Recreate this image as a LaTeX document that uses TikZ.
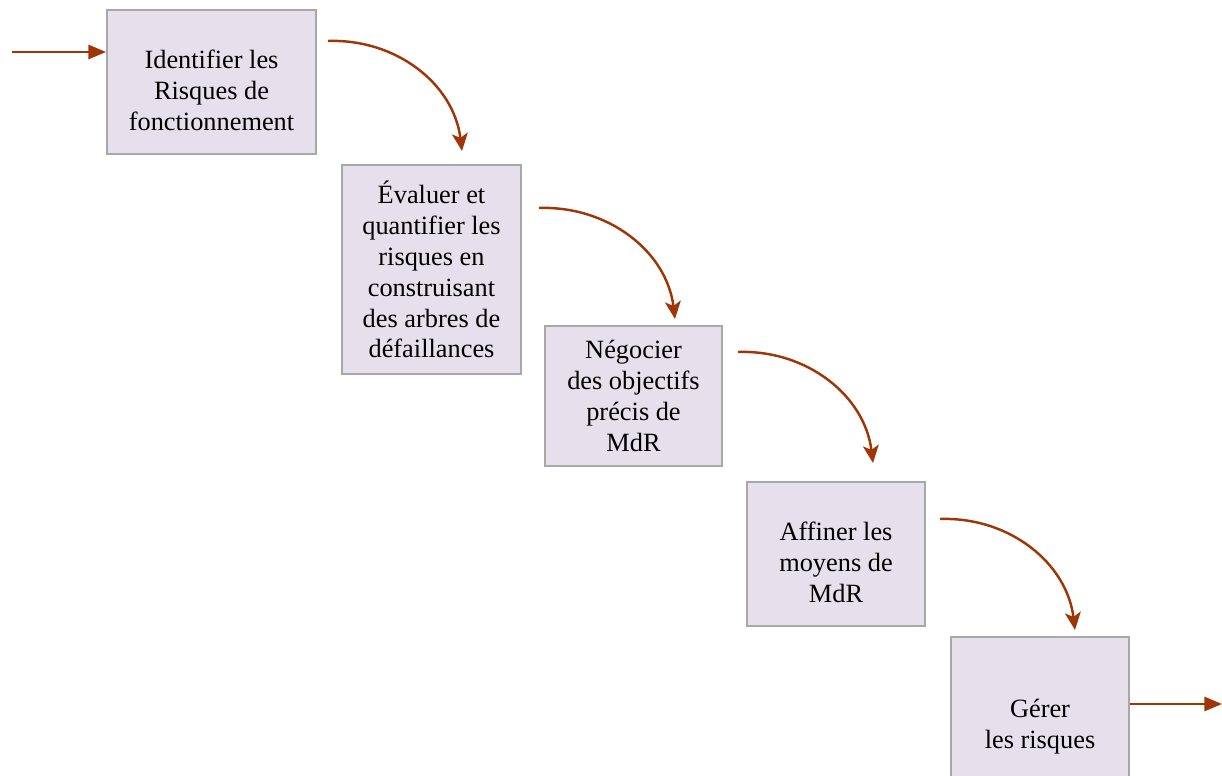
\documentclass[tikz,border=0pt]{standalone}
\usepackage{fontspec}
\setmainfont{Liberation Serif}
\usepackage{tikz}
\usetikzlibrary{arrows.meta, positioning}

\definecolor{flowred}{RGB}{158,54,8}
\definecolor{boxfill}{RGB}{229,224,236}
\definecolor{boxline}{RGB}{168,168,168}

\begin{document}
\begin{tikzpicture}[x=0.02cm, y=-0.02cm,
        stage/.style={draw=boxline, fill=boxfill, line width=1.1pt, align=center,
                      font=\fontsize{15}{17.6}\selectfont, inner sep=2pt},
        flow/.style={flowred, line width=1.4pt, -{Triangle[length=10pt, width=8pt]}},
        turn/.style={flowred, line width=1.4pt, -{Stealth[length=10pt, width=9pt, inset=2.5pt]}}]
        \useasboundingbox (0,0) rectangle (1222,776);

        % the five steps
        \node[stage, minimum width=4.18cm, minimum height=2.88cm] (ident) at (211.5,82) {\rule{0pt}{20pt}Identifier les\\Risques de\\fonctionnement};
        \node[stage, minimum width=3.58cm, minimum height=4.18cm] (evalu) at (431.5,269.5) {Évaluer et\\quantifier les\\risques en\\construisant\\des arbres de\\défaillances};
        \node[stage, minimum width=3.54cm, minimum height=2.80cm] (negoc) at (633.5,396) {Négocier\\des objectifs\\précis de\\MdR};
        \node[stage, minimum width=3.56cm, minimum height=2.88cm] (affin) at (836,554) {\rule{0pt}{20pt}Affiner les\\moyens de\\MdR};
        \node[stage, minimum width=3.56cm, minimum height=3.60cm] (gerer) at (1040,727) {Gérer\\les risques};

        % in and out
        \coordinate (entree) at (12,52);
        \coordinate (sortie) at (1222,704);
        \draw[flow] (entree) -- (entree -| ident.west);
        \draw[flow] (gerer.east |- sortie) -- (sortie);

        % bends between steps
        \coordinate (s1) at (328,41);   \coordinate (e1) at (462,151);
        \coordinate (s2) at (539,208);  \coordinate (e2) at (675,319);
        \coordinate (s3) at (738,352);  \coordinate (e3) at (873,463);
        \coordinate (s4) at (940,519);  \coordinate (e4) at (1075,630);
        \draw[turn] (s1) to[out=2, in=97] (e1);
        \draw[turn] (s2) to[out=2, in=97] (e2);
        \draw[turn] (s3) to[out=2, in=97] (e3);
        \draw[turn] (s4) to[out=2, in=97] (e4);
    \end{tikzpicture}
\end{document}
